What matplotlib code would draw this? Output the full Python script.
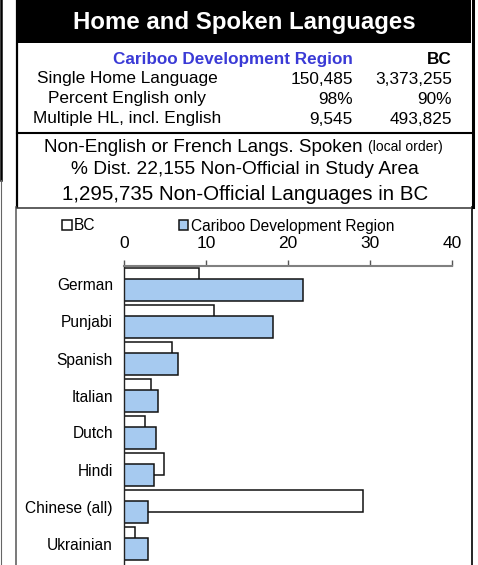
import matplotlib
matplotlib.use('Agg')
import matplotlib.pyplot as plt
from matplotlib.lines import Line2D
from matplotlib.patches import Rectangle
import numpy as np

plt.rcParams['font.family'] = ['Liberation Sans', 'DejaVu Sans']

# Data
languages = ['German', 'Punjabi', 'Spanish', 'Italian', 'Dutch', 'Hindi',
             'Chinese (all)', 'Ukrainian']
bc_pct = [9.2, 11.0, 5.9, 3.3, 2.5, 4.9, 29.1, 1.3]
cariboo_pct = [21.8, 18.2, 6.6, 4.1, 3.9, 3.6, 2.9, 2.9]

table_rows = ['Single Home Language', 'Percent English only', 'Multiple HL, incl. English']
table_cariboo = ['150,485', '98%', '9,545']
table_bc = ['3,373,255', '90%', '493,825']

W, H = 478, 565
fig = plt.figure(figsize=(W / 100, H / 100), dpi=100)


def fx(x):
    return x / W


def fy(y):
    return 1 - y / H


def hline(y, x0, x1, color='black', lw=1.0):
    fig.add_artist(Line2D([fx(x0), fx(x1)], [fy(y), fy(y)], color=color, lw=lw))


def vline(x, y0, y1, color='black', lw=1.0):
    fig.add_artist(Line2D([fx(x), fx(x)], [fy(y0), fy(y1)], color=color, lw=lw))


# title block
fig.add_artist(Rectangle((fx(17), fy(43)), fx(471) - fx(17), fy(0) - fy(43),
                         facecolor='black', edgecolor='none'))
fig.text(fx(244), fy(22), 'Home and Spoken Languages', color='white',
         fontsize=17.3, fontweight='bold', ha='center', va='center')

# frame lines
vline(1, 0, 180, lw=1.8)
vline(1, 180, 565, color='#666666', lw=0.8)
vline(16.5, 0, 207, lw=1.6)
vline(16, 207, 565, color='#555555', lw=1.1)
vline(472.5, 0, 207, lw=2.2)
vline(472, 207, 565, lw=1.2)
hline(133, 17, 471, lw=1.5)
hline(207.5, 17, 471, color='#333333', lw=1.1)

# summary table
blue = '#3a3ad6'
fig.text(fx(353), fy(59.5), 'Cariboo Development Region', color=blue,
         fontsize=12.3, fontweight='bold', ha='right', va='center')
fig.text(fx(452), fy(59.5), 'BC', fontsize=12.3, fontweight='bold',
         ha='right', va='center')
for i, (lab, c, b) in enumerate(zip(table_rows, table_cariboo, table_bc)):
    y = 79 + i * 20
    fig.text(fx(127), fy(y), lab, fontsize=12.4, ha='center', va='center')
    fig.text(fx(353), fy(y), c, fontsize=12.4, ha='right', va='center')
    fig.text(fx(452), fy(y), b, fontsize=12.4, ha='right', va='center')

# section header
fig.text(fx(44), fy(147), 'Non-English or French Langs. Spoken',
         fontsize=13.6, ha='left', va='center')
fig.text(fx(368), fy(147), '(local order)', fontsize=10, ha='left',
         va='center')
fig.text(fx(245), fy(170), '% Dist. 22,155 Non-Official in Study Area',
         fontsize=13.8, ha='center', va='center')
fig.text(fx(245), fy(195), '1,295,735 Non-Official Languages in BC',
         fontsize=14.8, ha='center', va='center')

# bar chart
ax = fig.add_axes([fx(124), 0, fx(452) - fx(124), (H - 266) / H])
pos = np.arange(len(languages))
bh = 0.595
off = 0.15
b_bc = ax.barh(pos - off, bc_pct, height=bh, color='white', edgecolor='#111111',
               linewidth=1.1, label='BC')
b_ca = ax.barh(pos + off, cariboo_pct, height=bh, color='#a6caf0',
               edgecolor='#111111', linewidth=1.1,
               label='Cariboo Development Region')

ax.set_xlim(0, 40)
ax.set_ylim(-0.5 + 299 / 37, -0.5)
ax.set_xticks([0, 10, 20, 30, 40])
ax.xaxis.tick_top()
ax.tick_params(axis='x', direction='out', length=4, width=1, color='#555555',
               labelsize=12.5, pad=7)
ax.set_yticks(pos)
ax.set_yticklabels(languages, fontsize=11.2)
ax.tick_params(axis='y', length=0, pad=8)
for s in ['right', 'bottom']:
    ax.spines[s].set_visible(False)
ax.spines['top'].set_color('#808080')
ax.spines['top'].set_linewidth(1.5)
ax.spines['left'].set_color('#222222')
ax.spines['left'].set_linewidth(1.0)

ax.legend(handles=[b_bc, b_ca], loc='center left',
          bbox_to_anchor=(fx(62), fy(226)), bbox_transform=fig.transFigure,
          ncol=2, frameon=False, fontsize=11.2, handlelength=0.62,
          handleheight=0.62, handletextpad=0.15, columnspacing=5.35,
          borderpad=0, borderaxespad=0)

fig.savefig('out.png', dpi=100)
